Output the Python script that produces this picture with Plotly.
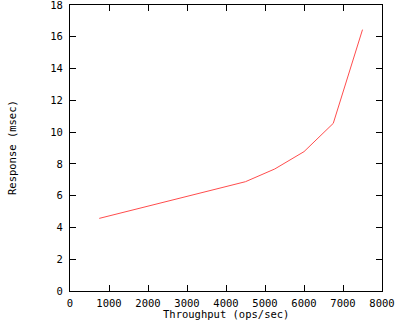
import plotly.graph_objects as go

throughput = [750, 1500, 2250, 3000, 3750, 4500, 5250, 6000, 6750, 7500]
response = [4.57, 5.03, 5.47, 5.92, 6.40, 6.88, 7.68, 8.77, 10.55, 16.45]
x_title = "Throughput (ops/sec)"
y_title = "Response (msec)"

FONT = dict(family="DejaVu Sans Mono", size=10.5, color="black")

fig = go.Figure()
fig.add_trace(go.Scatter(x=throughput, y=response, mode="lines",
                         line=dict(color="#ff4d4d", width=1), showlegend=False,
                         hoverinfo="skip"))

axis_common = dict(showgrid=False, zeroline=False, showline=True, linecolor="black",
                   linewidth=1, ticks="inside", ticklen=6, tickcolor="black",
                   tickwidth=1, mirror="allticks", tickfont=FONT,
                   ticklabeloverflow="allow", automargin=False)

fig.update_xaxes(range=[0, 8000], dtick=1000, tick0=0, ticklabelstandoff=2,
                 **axis_common)
fig.update_yaxes(range=[0, 18], dtick=2, tick0=0, ticklabelstandoff=4,
                 **axis_common)

fig.update_layout(
    width=400, height=320,
    margin=dict(l=70, r=18, t=5, b=29),
    paper_bgcolor="white", plot_bgcolor="white",
    font=FONT,
    annotations=[
        dict(text=x_title, x=0.5, y=0, xref="paper", yref="paper",
             xanchor="center", yanchor="top", yshift=-15, showarrow=False, font=FONT),
        dict(text=y_title, x=0, y=0.5, xref="paper", yref="paper", textangle=-90,
             xanchor="center", yanchor="middle", xshift=-58, showarrow=False, font=FONT),
    ],
)

fig.write_html("out.html", config={"displayModeBar": False},
               post_script="document.body.style.margin='0';")
